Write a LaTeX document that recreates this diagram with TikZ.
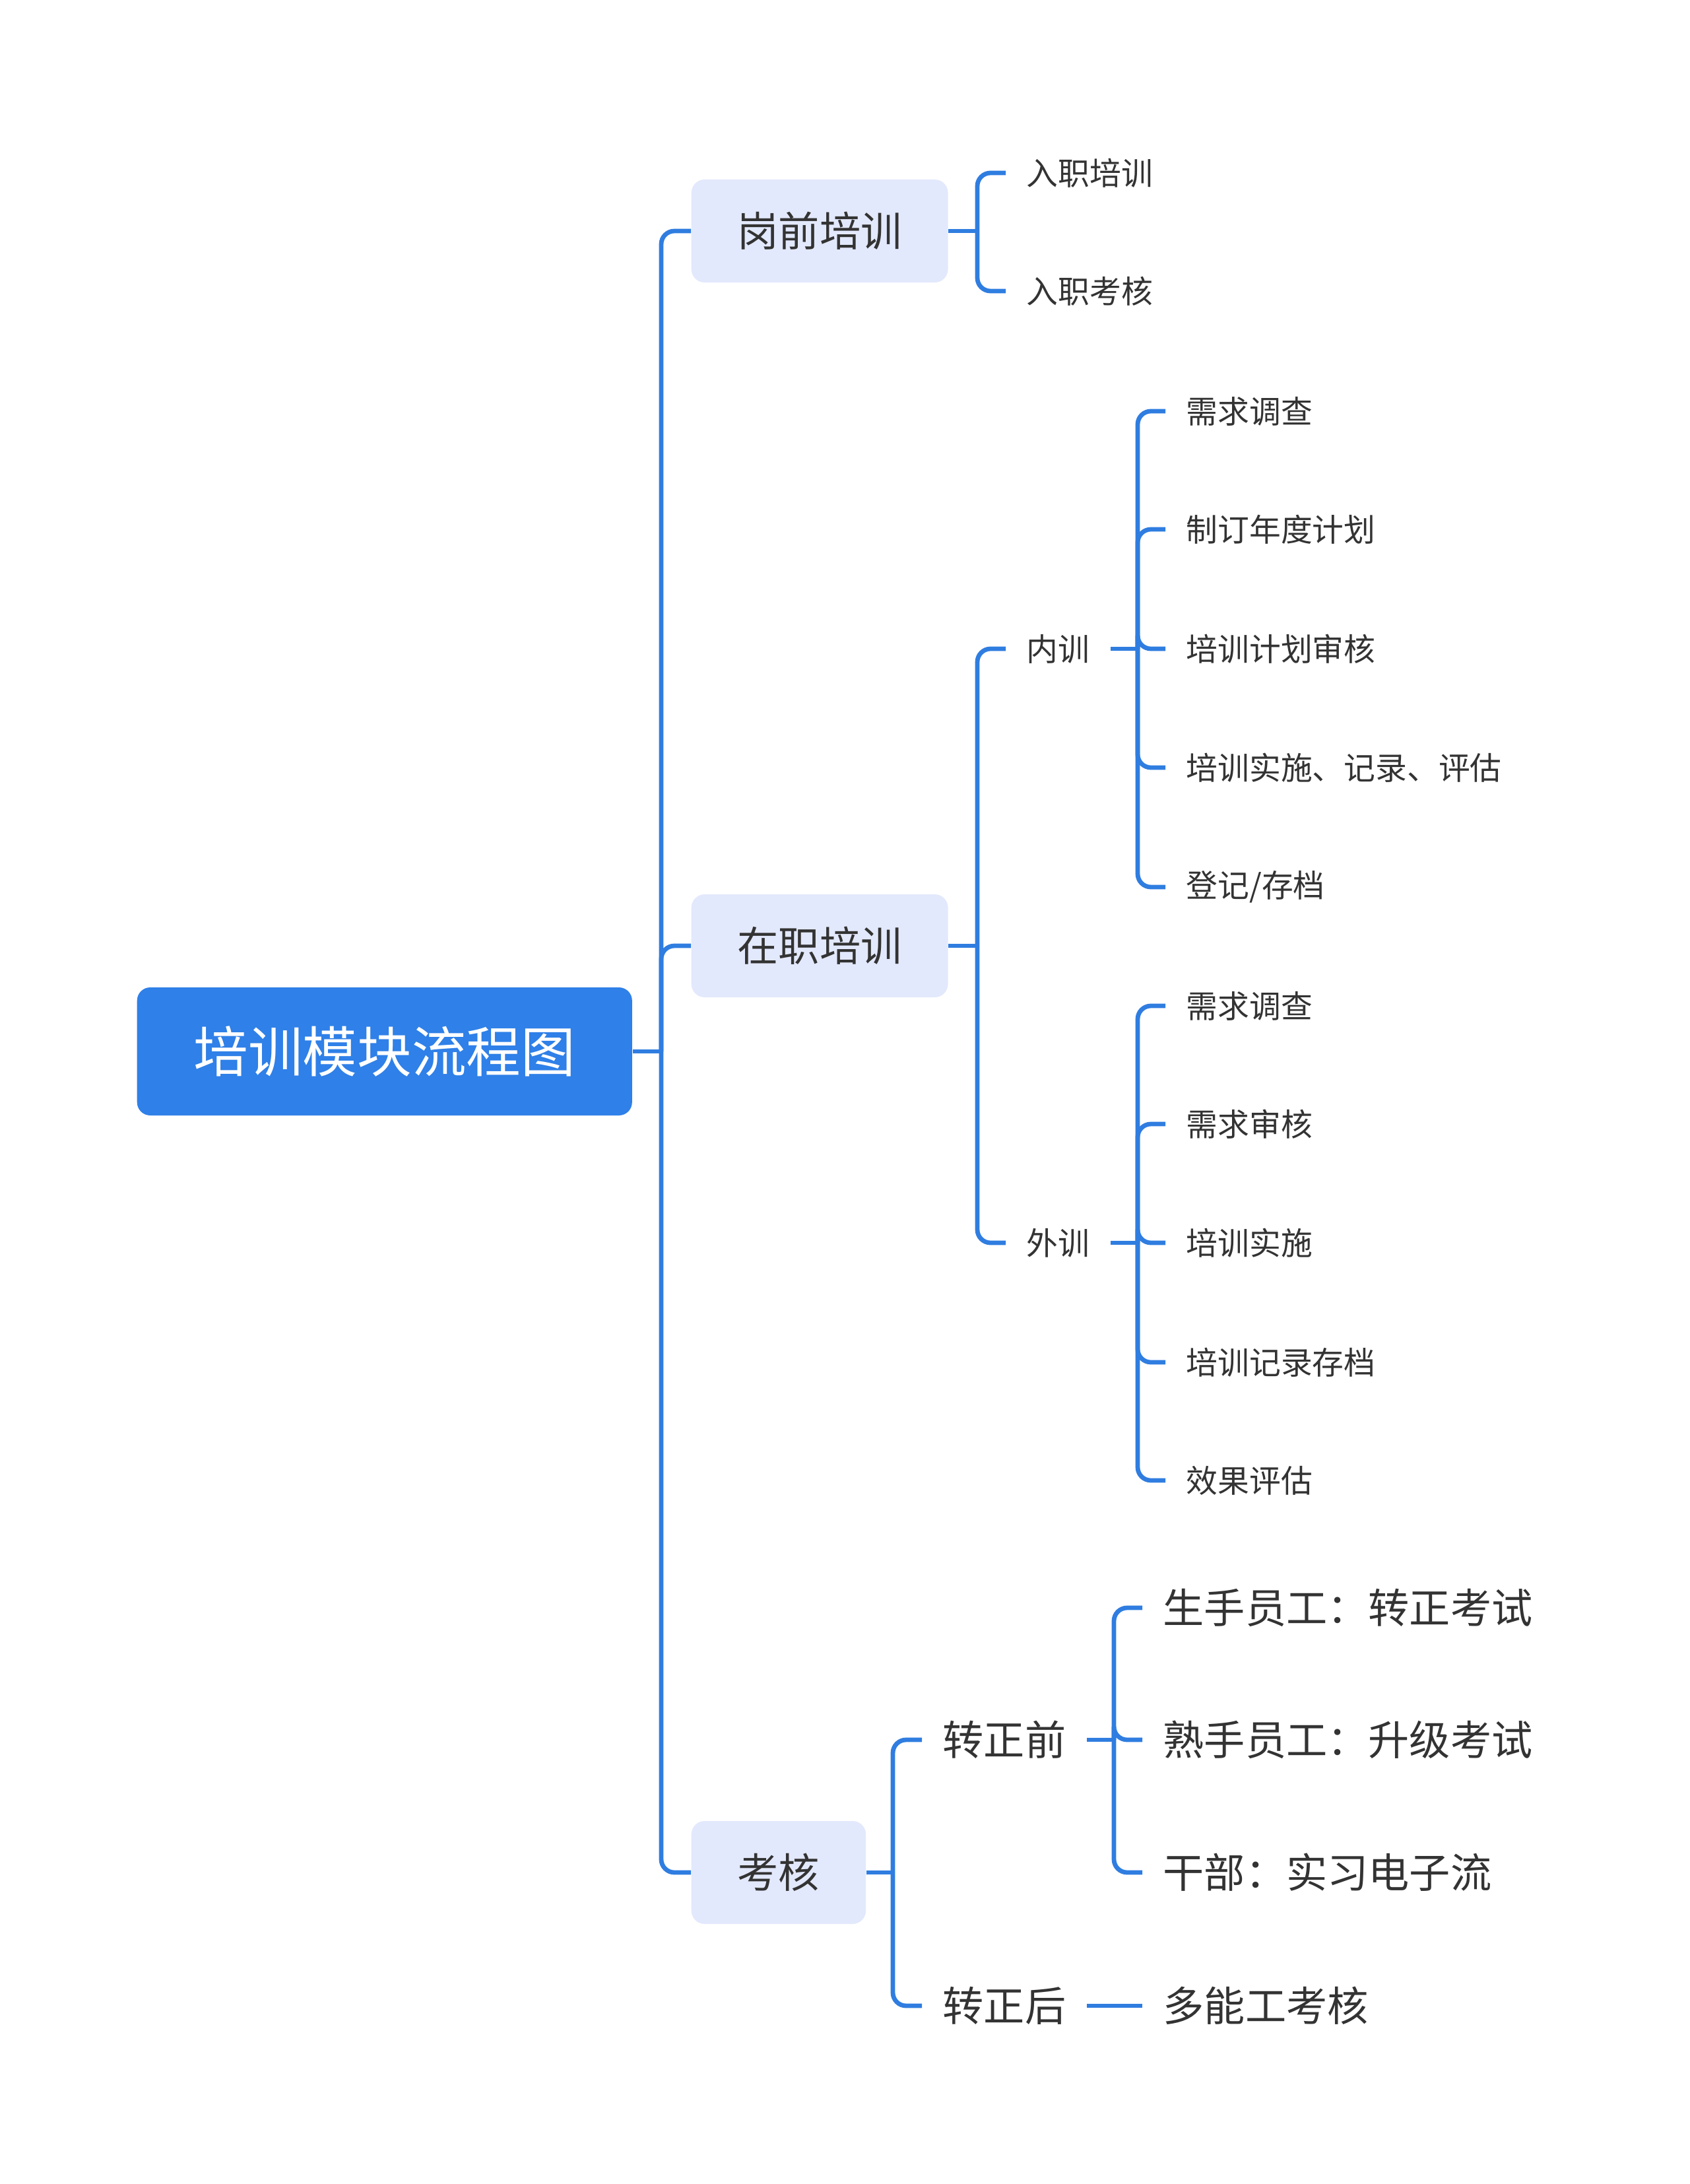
\documentclass[tikz,border=0pt]{standalone}
\usepackage{fontspec}
\usepackage{xcolor}
\newfontfamily\cjk{Noto Sans CJK SC}
\usetikzlibrary{positioning}
\definecolor{rootblue}{HTML}{2F80E8}
\definecolor{linkblue}{HTML}{2F7DE0}
\definecolor{topicfill}{HTML}{E3E9FC}
\definecolor{txtgrey}{HTML}{333333}

\begin{document}
\begin{tikzpicture}[
    root/.style={rectangle, fill=rootblue, rounded corners=0.2cm, minimum height=1.94cm,
                 inner xsep=0.86cm, text=white, anchor=west, font=\cjk\fontsize{23.5}{28}\selectfont},
    topic/.style={rectangle, fill=topicfill, rounded corners=0.2cm, minimum height=1.56cm,
                  inner xsep=0.7cm, text=txtgrey, anchor=west, font=\cjk\fontsize{17.7}{21}\selectfont},
    sub/.style={inner xsep=0.31cm, inner ysep=2pt, text=txtgrey, anchor=west,
                font=\cjk\fontsize{13.6}{16}\selectfont},
    big/.style={sub, font=\cjk\fontsize{17.7}{21}\selectfont},
    link/.style={draw=linkblue, line width=0.068cm, rounded corners=0.2cm}]
\useasboundingbox (0,0) rectangle (25.6,-33.09);
% root and main topics
\node[root] (root) at (2.07,-15.93) {培训模块流程图};
\node[topic] (gq) at (10.47,-3.50) {岗前培训};
\node[topic] (zz) at (10.47,-14.33) {在职培训};
\node[topic] (kh) at (10.47,-28.37) {考核};
% 岗前培训
\node[sub] (rz1) at (15.24,-2.62) {入职培训};
\node[sub] (rz2) at (15.24,-4.41) {入职考核};
% 在职培训
\node[sub] (nx) at (15.24,-9.83) {内训};
\node[sub] (wx) at (15.24,-18.83) {外训};
\node[sub] (n1) at (17.66,-6.23) {需求调查};
\node[sub] (n2) at (17.66,-8.02) {制订年度计划};
\node[sub] (n3) at (17.66,-9.83) {培训计划审核};
\node[sub] (n4) at (17.66,-11.63) {培训实施、记录、评估};
\node[sub] (n5) at (17.66,-13.44) {登记/存档};
\node[sub] (w1) at (17.66,-15.24) {需求调查};
\node[sub] (w2) at (17.66,-17.03) {需求审核};
\node[sub] (w3) at (17.66,-18.83) {培训实施};
\node[sub] (w4) at (17.66,-20.64) {培训记录存档};
\node[sub] (w5) at (17.66,-22.43) {效果评估};
% 考核
\node[big] (qq) at (13.97,-26.36) {转正前};
\node[big] (hh) at (13.97,-30.39) {转正后};
\node[big] (q1) at (17.31,-24.36) {生手员工：转正考试};
\node[big] (q2) at (17.31,-26.36) {熟手员工：升级考试};
\node[big] (q3) at (17.31,-28.37) {干部：实习电子流};
\node[big] (h1) at (17.31,-30.39) {多能工考核};
% junctions
\coordinate (j0) at (10.02,-15.93);
\coordinate (jg) at (14.81,-3.50);
\coordinate (jz) at (14.81,-14.33);
\coordinate (jn) at (17.24,-9.83);
\coordinate (jw) at (17.24,-18.83);
\coordinate (jk) at (13.53,-28.37);
\coordinate (jq) at (16.88,-26.36);
% connectors
\draw[link] (root.east) -- (j0);
\foreach \t in {gq,zz,kh} {
    \draw[link] (j0) |- (\t.west);
}
\draw[link] (gq.east) -- (jg);
\foreach \t in {rz1,rz2} {
    \draw[link] (jg) |- (\t.west);
}
\draw[link] (zz.east) -- (jz);
\foreach \t in {nx,wx} {
    \draw[link] (jz) |- (\t.west);
}
\draw[link] (nx.east) -- (jn);
\foreach \t in {n1,n2,n3,n4,n5} {
    \draw[link] (jn) |- (\t.west);
}
\draw[link] (wx.east) -- (jw);
\foreach \t in {w1,w2,w3,w4,w5} {
    \draw[link] (jw) |- (\t.west);
}
\draw[link] (kh.east) -- (jk);
\foreach \t in {qq,hh} {
    \draw[link] (jk) |- (\t.west);
}
\draw[link] (qq.east) -- (jq);
\foreach \t in {q1,q2,q3} {
    \draw[link] (jq) |- (\t.west);
}
\draw[link] (hh.east) -- (h1.west);
\end{tikzpicture}
\end{document}
